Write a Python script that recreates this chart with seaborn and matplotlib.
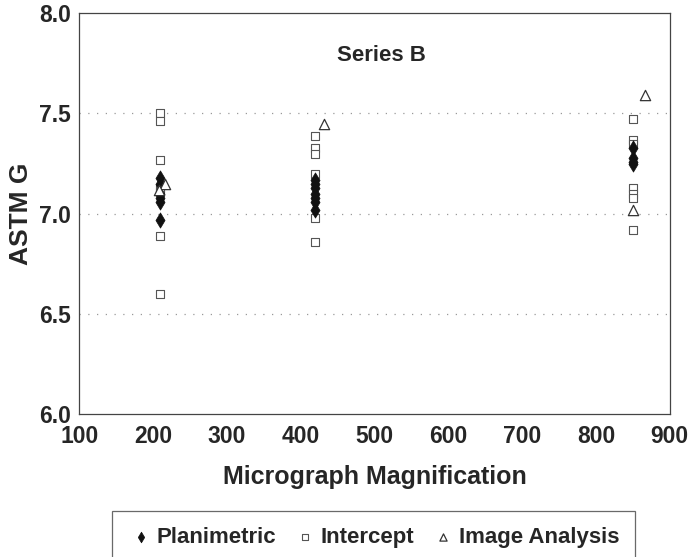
import pandas as pd
import numpy as np
import matplotlib.pyplot as plt
import seaborn as sns

# values (ASTM G grain size number, Series B)
plan_x = [210] * 6 + [420] * 7 + [850] * 4
plan_y = [7.18, 7.15, 7.10, 7.08, 7.06, 6.97,
          7.17, 7.15, 7.13, 7.10, 7.08, 7.06, 7.02,
          7.33, 7.28, 7.26, 7.25]

icpt_x = [210] * 7 + [420] * 6 + [850] * 7
icpt_y = [7.50, 7.46, 7.27, 7.13, 7.11, 6.89, 6.60,
          7.39, 7.33, 7.30, 7.20, 6.98, 6.86,
          7.47, 7.37, 7.35, 7.13, 7.10, 7.08, 6.92]

img_x = [216, 208, 432, 850, 867]
img_y = [7.15, 7.12, 7.45, 7.02, 7.59]

x_ticks = [100, 200, 300, 400, 500, 600, 700, 800, 900]
y_ticks = [6.0, 6.5, 7.0, 7.5, 8.0]

df = pd.concat([
    pd.DataFrame({'mag': plan_x, 'G': plan_y, 'Method': 'Planimetric'}),
    pd.DataFrame({'mag': icpt_x, 'G': icpt_y, 'Method': 'Intercept'}),
    pd.DataFrame({'mag': img_x, 'G': img_y, 'Method': 'Image Analysis'}),
], ignore_index=True)

sns.set_theme(style="white")
plt.rcParams['font.family'] = ['Liberation Sans', 'DejaVu Sans']
plt.rcParams['font.weight'] = 'bold'

fig = plt.figure(figsize=(6.89, 5.57), dpi=100)
ax = fig.add_axes([0.115, 0.257, 0.857, 0.719])

# dotted reference lines
for yv in [6.5, 7.0, 7.5]:
    ax.axhline(yv, color='#999999', linestyle=(0, (1, 6)), linewidth=0.9, zorder=0)

styles = {
    'Planimetric': dict(marker='d', s=60, color='#111111', edgecolor='#111111', linewidth=0.5),
    'Intercept': dict(marker='s', s=30, color='white', edgecolor='#555555', linewidth=0.8),
    'Image Analysis': dict(marker='^', s=55, color='white', edgecolor='#333333', linewidth=0.9),
}
for method in ['Intercept', 'Planimetric', 'Image Analysis']:
    sub = df[df['Method'] == method]
    sns.scatterplot(data=sub, x='mag', y='G', ax=ax, label=method, zorder=3, **styles[method])

ax.set_xlim(100, 900)
ax.set_ylim(6.0, 8.0)
ax.set_xticks(x_ticks)
ax.set_yticks(y_ticks)
ax.set_xticklabels([str(t) for t in x_ticks], fontsize=16.5, fontweight='bold')
ax.set_yticklabels([f'{t:.1f}' for t in y_ticks], fontsize=16.5, fontweight='bold')
ax.tick_params(axis='both', direction='in', length=5, width=0.8, color='#555555')
ax.tick_params(axis='x', pad=8)
ax.tick_params(axis='y', pad=6)
ax.set_xlabel('Micrograph Magnification', fontsize=18, fontweight='bold', labelpad=12)
ax.set_ylabel('ASTM G', fontsize=19, fontweight='bold', labelpad=4)

for sp in ax.spines.values():
    sp.set_color('#444444')
    sp.set_linewidth(0.9)

ax.text(510, 7.79, 'Series B', ha='center', va='center', fontsize=16, fontweight='bold')

ax.get_legend().remove()
h, l = ax.get_legend_handles_labels()
order = [l.index('Planimetric'), l.index('Intercept'), l.index('Image Analysis')]
leg = fig.legend([h[i] for i in order], [l[i] for i in order], loc='upper center',
                 bbox_to_anchor=(0.542, 0.0826), ncol=3, frameon=True, fancybox=False,
                 fontsize=16, handletextpad=0.1, handlelength=1.2, columnspacing=0.7,
                 borderpad=0.7, borderaxespad=0, markerscale=0.7)
leg.get_frame().set_edgecolor('#444444')
leg.get_frame().set_linewidth(0.9)
for t in leg.get_texts():
    t.set_fontweight('bold')

fig.savefig('out.png', dpi=100)
